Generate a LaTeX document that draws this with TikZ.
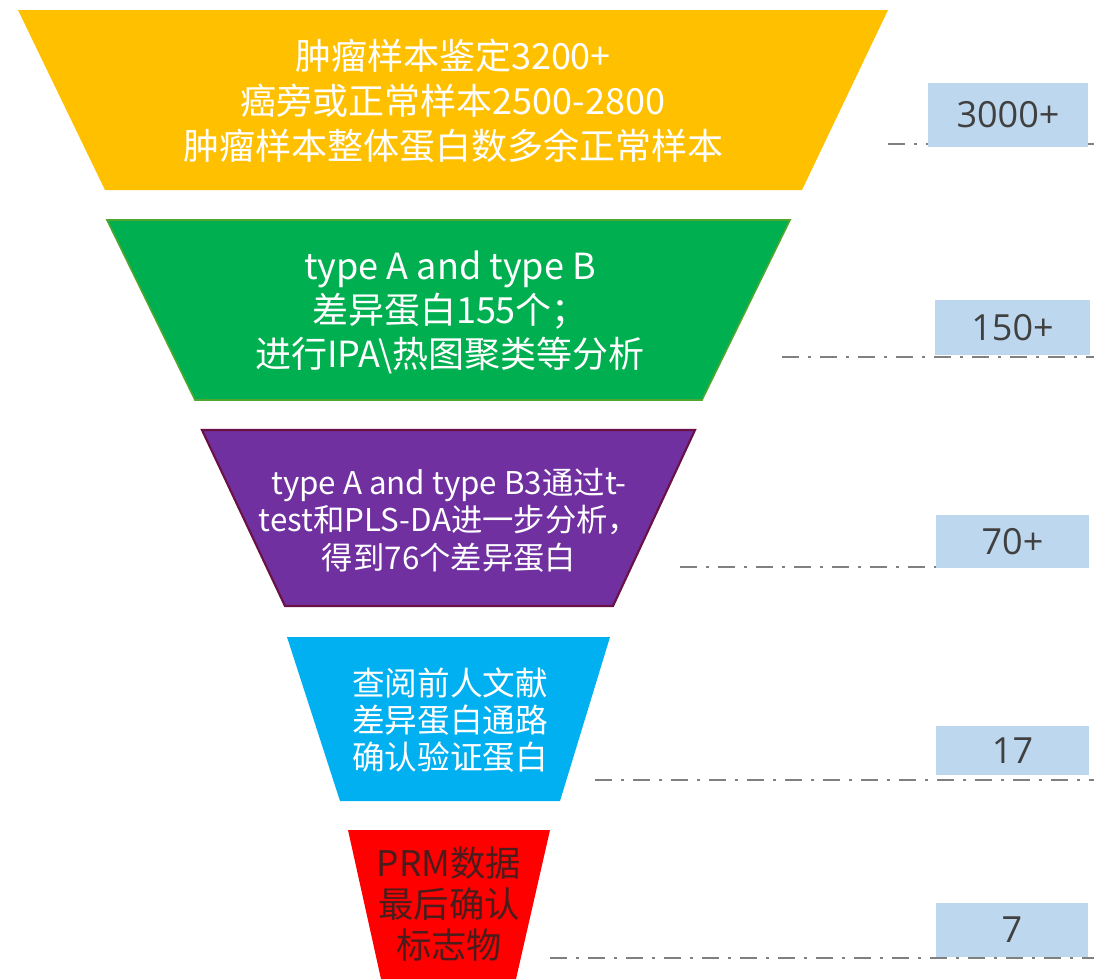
\documentclass[tikz,border=0pt]{standalone}
\usepackage{fontspec}
\setmainfont{Noto Sans CJK SC}
\newfontfamily\countfont{Open Sans}
\definecolor{lvorange}{HTML}{FFC000}
\definecolor{lvgreen}{HTML}{00B050}
\definecolor{lvgreenedge}{HTML}{4EA72E}
\definecolor{lvpurple}{HTML}{7030A0}
\definecolor{lvpurpleedge}{HTML}{6A1245}
\definecolor{lvcyan}{HTML}{00B0F0}
\definecolor{lvred}{HTML}{FF0000}
\definecolor{lvredtext}{HTML}{4A1C1C}
\definecolor{countbox}{HTML}{BDD7EE}
\definecolor{counttext}{HTML}{404040}
\definecolor{guide}{HTML}{808080}
\begin{document}
\begin{tikzpicture}[x=0.75pt,y=-0.75pt,
  level/.style={align=center,text=white,inner sep=0pt},
  countnode/.style={fill=countbox,draw=none,inner sep=0pt,text=counttext,
    font=\countfont\fontsize{27}{30}\selectfont},
  guideline/.style={draw=guide,line width=2.2pt,
    dash pattern=on 12.75pt off 6.75pt on 2.25pt off 6.75pt}]
\useasboundingbox (0,0) rectangle (1094,979);

% funnel levels
\fill[lvorange] (18,10) -- (888,10) -- (802,190) -- (105,190) -- cycle;
\filldraw[fill=lvgreen,draw=lvgreenedge,line width=1.2pt]
  (107,220) -- (790,220) -- (702,400) -- (195,400) -- cycle;
\filldraw[fill=lvpurple,draw=lvpurpleedge,line width=1.6pt]
  (202,430) -- (695,430) -- (613,606) -- (285,606) -- cycle;
\fill[lvcyan] (287,637) -- (610,637) -- (560,801) -- (340,801) -- cycle;
\fill[lvred] (348,830) -- (550,830) -- (516,979) -- (381,979) -- cycle;

% level texts
\node[level,font=\fontsize{27}{33.5}\selectfont] (t1) at (453,101)
  {肿瘤样本鉴定3200+\\癌旁或正常样本2500-2800\\肿瘤样本整体蛋白数多余正常样本};
\node[level,font=\fontsize{27}{33}\selectfont] (t2) at (450,312)
  {type A and type B\\差异蛋白155个；\\进行IPA\textbackslash 热图聚类等分析};
\node[level,font=\fontsize{23.5}{28}\selectfont] (t3) at (449,520)
  {type A and type B3通过t-\\test和PLS-DA进一步分析，\\得到76个差异蛋白};
\node[level,font=\fontsize{24.5}{27.75}\selectfont] (t4) at (450,720)
  {查阅前人文献\\差异蛋白通路\\确认验证蛋白};
\node[level,text=lvredtext,font=\fontsize{26.5}{31}\selectfont] (t5) at (449,904)
  {PRM数据\\最后确认\\标志物};

% guide lines
\coordinate (g1a) at (888,144);  \coordinate (g1b) at (1094,144);
\coordinate (g2a) at (782,357);  \coordinate (g2b) at (1094,357);
\coordinate (g3a) at (680,567);  \coordinate (g3b) at (1094,567);
\coordinate (g4a) at (595,780);  \coordinate (g4b) at (1094,780);
\coordinate (g5a) at (550,958);  \coordinate (g5b) at (1094,958);
\draw[guideline] (g1a) -- (g1b);
\draw[guideline] (g2a) -- (g2b);
\draw[guideline] (g3a) -- (g3b);
\draw[guideline] (g4a) -- (g4b);
\draw[guideline] (g5a) -- (g5b);

% count boxes
\node[countnode,minimum width=120pt,minimum height=48pt] (c1) at (1008,115) {3000+};
\node[countnode,minimum width=116.25pt,minimum height=41.25pt] (c2) at (1012.5,327.5) {150+};
\node[countnode,minimum width=114.75pt,minimum height=39.75pt] (c3) at (1012.5,541.5) {70+};
\node[countnode,minimum width=114.75pt,minimum height=36.75pt] (c4) at (1012.5,750.5) {17};
\node[countnode,minimum width=114pt,minimum height=40.5pt] (c5) at (1012,930) {7};
\end{tikzpicture}
\end{document}
